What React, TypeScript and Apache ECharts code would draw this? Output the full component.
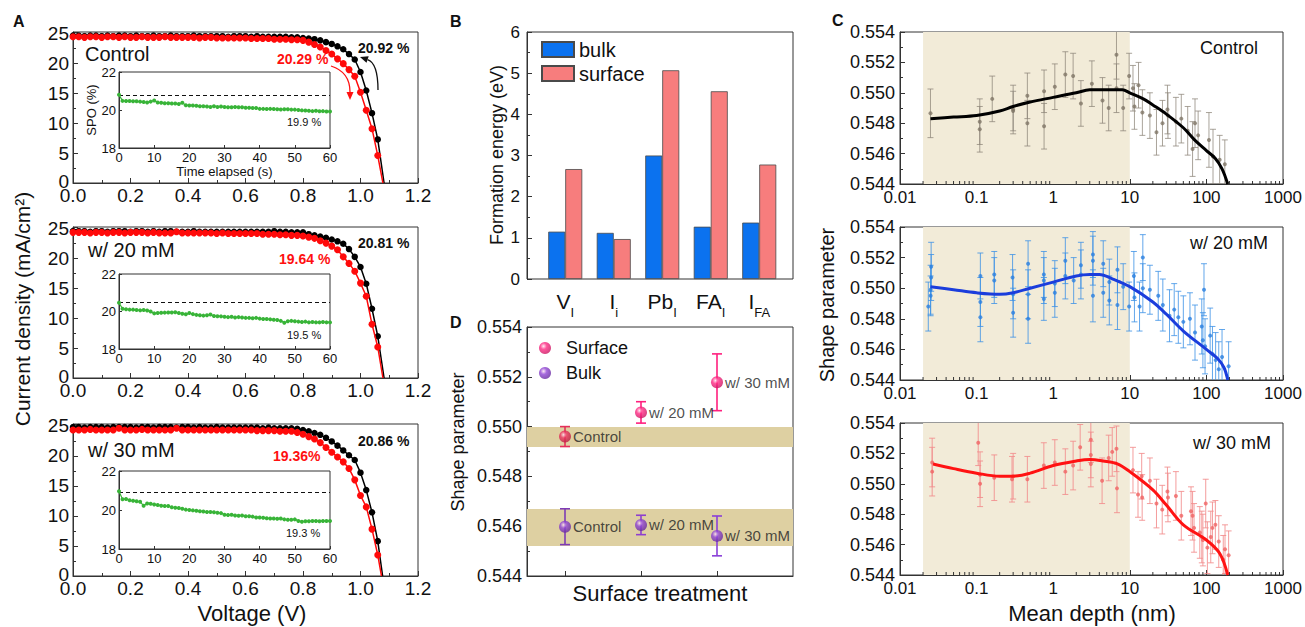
import React, { useEffect, useRef } from 'react';
import * as echarts from 'echarts';

const FONT = "'Liberation Sans', Arial, Helvetica, sans-serif";

// ---------------- Panel A : J-V curves ----------------
const V_GRID = [0, 0.02, 0.04, 0.06, 0.08, 0.1, 0.12, 0.14, 0.16, 0.18, 0.2, 0.22, 0.24, 0.26, 0.28, 0.3, 0.32, 0.34, 0.36, 0.38,
  0.4, 0.42, 0.44, 0.46, 0.48, 0.5, 0.52, 0.54, 0.56, 0.58, 0.6, 0.62, 0.64, 0.66, 0.68, 0.7, 0.72, 0.74, 0.76, 0.78,
  0.8, 0.82, 0.84, 0.86, 0.88, 0.9, 0.92, 0.94, 0.96, 0.98, 1.0, 1.02, 1.04, 1.06];

const CTRL_FWD = [24.7, 24.7, 24.6, 24.7, 24.7, 24.6, 24.7, 24.6, 24.7, 24.7, 24.6, 24.7, 24.6, 24.6, 24.7, 24.6, 24.6, 24.7, 24.6, 24.6,
  24.6, 24.7, 24.6, 24.6, 24.6, 24.6, 24.6, 24.5, 24.6, 24.6, 24.6, 24.5, 24.6, 24.5, 24.5, 24.5, 24.5, 24.5, 24.4, 24.4,
  24.3, 24.2, 24.1, 23.9, 23.6, 23.3, 22.9, 22.4, 21.6, 20.7, 18.6, 15.5, 11.7, 7.3];
const CTRL_REV = [24.5, 24.5, 24.4, 24.5, 24.5, 24.4, 24.5, 24.5, 24.4, 24.5, 24.4, 24.4, 24.5, 24.4, 24.4, 24.4, 24.5, 24.4, 24.4, 24.4,
  24.4, 24.4, 24.3, 24.4, 24.4, 24.3, 24.3, 24.3, 24.3, 24.3, 24.3, 24.2, 24.2, 24.2, 24.2, 24.1, 24.1, 24.1, 24.0, 24.0,
  23.9, 23.6, 23.2, 22.8, 22.2, 21.6, 20.8, 20.0, 19.0, 17.9, 15.2, 12.2, 9.1, 4.6];
const M20_FWD = [24.6, 24.6, 24.6, 24.5, 24.6, 24.6, 24.5, 24.6, 24.6, 24.6, 24.5, 24.6, 24.6, 24.5, 24.6, 24.5, 24.6, 24.6, 24.5, 24.5,
  24.5, 24.6, 24.5, 24.5, 24.5, 24.5, 24.5, 24.5, 24.5, 24.5, 24.5, 24.5, 24.5, 24.5, 24.5, 24.6, 24.5, 24.5, 24.4, 24.4,
  24.4, 24.1, 23.9, 23.7, 23.5, 23.2, 22.9, 22.5, 21.6, 20.3, 18.6, 15.8, 11.6, 7.0];
const M20_REV = [24.4, 24.4, 24.4, 24.3, 24.4, 24.4, 24.3, 24.4, 24.4, 24.3, 24.4, 24.4, 24.4, 24.3, 24.4, 24.3, 24.3, 24.3, 24.5, 24.3,
  24.3, 24.3, 24.3, 24.3, 24.3, 24.2, 24.3, 24.2, 24.2, 24.2, 24.2, 24.2, 24.2, 24.1, 24.1, 24.1, 24.0, 24.0, 23.9, 23.9,
  23.8, 23.6, 23.4, 23.0, 22.6, 22.1, 21.5, 20.3, 19.2, 17.9, 15.9, 13.7, 9.0, 5.2];
const M30_FWD = [24.8, 24.8, 24.7, 24.8, 24.8, 24.8, 24.7, 24.8, 24.8, 24.8, 24.8, 24.7, 24.8, 24.8, 24.7, 24.8, 24.8, 24.8, 24.7, 24.8,
  24.8, 24.7, 24.8, 24.7, 24.7, 24.8, 24.7, 24.7, 24.7, 24.7, 24.7, 24.7, 24.7, 24.6, 24.7, 24.6, 24.6, 24.6, 24.6, 24.5,
  24.3, 24.1, 23.8, 23.5, 23.0, 22.4, 21.7, 20.9, 20.1, 19.3, 17.2, 14.3, 10.6, 5.8];
const M30_REV = [24.3, 24.3, 24.3, 24.4, 24.3, 24.3, 24.3, 24.3, 24.6, 24.3, 24.3, 24.3, 24.4, 24.3, 24.3, 24.3, 24.3, 24.3, 24.6, 24.3,
  24.3, 24.3, 24.3, 24.3, 24.3, 24.3, 24.3, 24.3, 24.3, 24.3, 24.3, 24.3, 24.2, 24.2, 24.2, 24.2, 24.1, 24.1, 24.1, 23.9,
  23.6, 23.2, 22.8, 22.2, 21.4, 20.6, 19.8, 19.0, 17.9, 16.0, 13.4, 11.5, 7.8, 3.5];
const VOC = { ctrl: [1.082, 1.078], m20: [1.082, 1.078], m30: [1.077, 1.073] };

// SPO insets
const SPO_T = [0, 1, 2, 3, 4, 5, 6, 7, 8, 9, 10, 11, 12, 13, 14, 15, 16, 17, 18, 19, 20, 21, 22, 23, 24, 25, 26, 27, 28, 29, 30,
  31, 32, 33, 34, 35, 36, 37, 38, 39, 40, 41, 42, 43, 44, 45, 46, 47, 48, 49, 50, 51, 52, 53, 54, 55, 56, 57, 58, 59, 60];
const SPO_CTRL = [20.8, 20.48, 20.47, 20.47, 20.46, 20.46, 20.44, 20.42, 20.4, 20.44, 20.5, 20.4, 20.38, 20.36, 20.36, 20.34, 20.34, 20.32, 20.38, 20.25,
  20.24, 20.24, 20.22, 20.2, 20.2, 20.18, 20.16, 20.2, 20.16, 20.18, 20.16, 20.15, 20.14, 20.16, 20.14, 20.14, 20.12, 20.12, 20.1, 20.1,
  20.06, 20.06, 20.05, 20.06, 20.05, 20.04, 20.03, 20.04, 20.04, 20.02, 20.02, 20.0, 19.98, 19.97, 19.96, 19.94, 19.96, 19.93, 19.94, 19.92, 19.92];
const SPO_M20 = [20.47, 20.15, 20.12, 20.1, 20.1, 20.08, 20.06, 20.08, 20.05, 20.0, 19.9, 19.92, 19.93, 19.94, 19.95, 19.95, 19.96, 19.92, 19.88, 19.85,
  19.92, 19.86, 19.82, 19.8, 19.78, 19.8, 19.84, 19.76, 19.75, 19.74, 19.72, 19.7, 19.72, 19.68, 19.7, 19.68, 19.66, 19.66, 19.64, 19.66,
  19.62, 19.6, 19.6, 19.58, 19.56, 19.55, 19.5, 19.4, 19.48, 19.5, 19.48, 19.46, 19.44, 19.46, 19.42, 19.44, 19.42, 19.42, 19.44, 19.42, 19.42];
const SPO_M30 = [20.96, 20.55, 20.56, 20.5, 20.47, 20.45, 20.42, 20.22, 20.33, 20.32, 20.28, 20.26, 20.22, 20.2, 20.2, 20.14, 20.12, 20.1, 20.06, 20.02,
  20.0, 19.98, 19.96, 19.94, 19.92, 19.9, 19.9, 19.88, 19.86, 19.84, 19.76, 19.74, 19.76, 19.72, 19.7, 19.72, 19.68, 19.68, 19.66, 19.62,
  19.62, 19.6, 19.58, 19.56, 19.56, 19.55, 19.56, 19.52, 19.5, 19.5, 19.52, 19.44, 19.4, 19.42, 19.42, 19.44, 19.44, 19.42, 19.44, 19.44, 19.44];
const SPO_REF = [20.78, 20.52, 20.89];

// ---------------- Panel B : formation energy ----------------
const B_CATS = ['V_I', 'I_i', 'Pb_I', 'FA_I', 'I_FA'];
const B_BULK = [1.15, 1.12, 3.0, 1.27, 1.37];
const B_SURF = [2.67, 0.97, 5.07, 4.56, 2.78];

// ---------------- Panel D : shape parameter vs treatment ----------------
const D_X = [1, 2, 3];
const D_LABELS = ['Control', 'w/ 20 mM', 'w/ 30 mM'];
const D_SURF = [0.5496, 0.55057, 0.55178];
const D_SURF_ERR = [0.0004, 0.00043, 0.00114];
const D_BULK = [0.54598, 0.54605, 0.54561];
const D_BULK_ERR = [0.00072, 0.00039, 0.0008];
const D_BANDS = [[0.54918, 0.54998], [0.5452, 0.54669]];

// ---------------- Panel C : depth profiles [depth, value, err] ----------------
const C_CTRL_PTS = [
  [0.025, 0.54865, 0.0016], [0.11, 0.5481, 0.0015], [0.11, 0.5476, 0.0015], [0.16, 0.5496, 0.0015], [0.3, 0.5489, 0.0016],
  [0.3, 0.5488, 0.0013], [0.46, 0.5498, 0.0015], [0.46, 0.548, 0.0015], [0.76, 0.5501, 0.0014], [0.76, 0.5478, 0.0015],
  [1.05, 0.5504, 0.0015], [1.44, 0.5512, 0.0015], [1.82, 0.5511, 0.0015], [2.3, 0.5493, 0.0015], [3.2, 0.5506, 0.0015],
  [4.4, 0.5495, 0.0015], [5.3, 0.549, 0.0015], [6.7, 0.5525, 0.0016], [6.7, 0.5503, 0.0016], [8.2, 0.549, 0.0015],
  [9.8, 0.5511, 0.0015], [11, 0.5503, 0.0015], [11.5, 0.5491, 0.0015], [13, 0.5505, 0.0015], [14.6, 0.5487, 0.0015],
  [18.3, 0.5485, 0.0015], [22.3, 0.5474, 0.0015], [26.7, 0.548, 0.0015], [31, 0.5489, 0.0016], [31.5, 0.5485, 0.0015],
  [40, 0.5481, 0.0016], [47, 0.5483, 0.0016], [57, 0.5475, 0.0016], [66, 0.5463, 0.0018], [71, 0.548, 0.0016],
  [78, 0.5472, 0.0016], [108, 0.5469, 0.0018], [122, 0.5458, 0.0018], [149, 0.5456, 0.0016], [174, 0.5453, 0.0016],
];
const C_CTRL_FIT = [[0.025, 0.5483], [0.05, 0.5484], [0.1, 0.5485], [0.2, 0.5488], [0.3, 0.5491], [0.5, 0.5494], [1, 0.5497],
  [2, 0.55], [3, 0.5502], [5, 0.5502], [8, 0.5502], [10, 0.55], [15, 0.5496], [20, 0.5492], [30, 0.5486], [50, 0.5477],
  [70, 0.5469], [100, 0.5462], [130, 0.5457], [160, 0.545], [190, 0.544]];

const C_20_PTS = [
  [0.0234, 0.5488, 0.0016], [0.0251, 0.5495, 0.0013], [0.0251, 0.5499, 0.0016], [0.0255, 0.5507, 0.0015], [0.0255, 0.5514, 0.0016],
  [0.112, 0.5508, 0.0015], [0.112, 0.5491, 0.0016], [0.112, 0.5481, 0.0016], [0.17, 0.5505, 0.0015], [0.17, 0.5509, 0.0015],
  [0.295, 0.5507, 0.0015], [0.3, 0.5496, 0.0016], [0.3, 0.5484, 0.0016], [0.47, 0.5516, 0.0015], [0.47, 0.5496, 0.0016],
  [0.47, 0.548, 0.0016], [0.755, 0.5509, 0.0015], [0.755, 0.5505, 0.0015], [0.755, 0.5493, 0.0014], [1.05, 0.5497, 0.0016],
  [1.05, 0.5503, 0.0015], [1.44, 0.5508, 0.0015], [1.44, 0.5518, 0.0015], [1.85, 0.5505, 0.0015], [2.3, 0.5515, 0.0015],
  [2.3, 0.5509, 0.0016], [3.3, 0.5522, 0.0015], [3.3, 0.5518, 0.0016], [3.3, 0.5495, 0.0017], [4.5, 0.5516, 0.0015],
  [4.5, 0.5497, 0.0016], [5.4, 0.5504, 0.0015], [5.4, 0.5492, 0.0016], [6.9, 0.5512, 0.0015], [6.9, 0.5489, 0.0016],
  [8.2, 0.5501, 0.0015], [9.8, 0.5488, 0.0016], [11.3, 0.5508, 0.0016], [11.5, 0.5494, 0.0016], [13.4, 0.5488, 0.0016],
  [14.8, 0.552, 0.0015], [14.8, 0.55, 0.0016], [18.3, 0.5499, 0.0016], [23.5, 0.5495, 0.0016], [27, 0.5489, 0.0017],
  [33, 0.5482, 0.0017], [38, 0.5486, 0.0017], [43, 0.5481, 0.0017], [50, 0.5478, 0.0017], [61, 0.548, 0.0017],
  [71, 0.5471, 0.0018], [87, 0.5475, 0.0018], [90, 0.5466, 0.0018], [93, 0.5499, 0.0017], [96, 0.5462, 0.0018],
  [112, 0.5469, 0.0018], [120, 0.5457, 0.0018], [132, 0.5453, 0.0018], [145, 0.5447, 0.0018], [160, 0.5455, 0.0018],
  [195, 0.5449, 0.0016],
];
const C_20_FIT = [[0.025, 0.5501], [0.05, 0.5499], [0.1, 0.5497], [0.2, 0.5496], [0.3, 0.5497], [0.5, 0.55], [1, 0.5504],
  [2, 0.5508], [3, 0.5509], [4, 0.5509], [6, 0.5506], [10, 0.5501], [20, 0.5491], [30, 0.5483], [50, 0.5472], [100, 0.546],
  [140, 0.5454], [170, 0.5448], [190, 0.544]];

const C_30_PTS = [
  [0.0263, 0.5514, 0.0016], [0.0263, 0.5508, 0.0016], [0.105, 0.5527, 0.0015], [0.111, 0.55, 0.0015], [0.111, 0.5506, 0.0015],
  [0.17, 0.5504, 0.0015], [0.29, 0.5503, 0.0015], [0.3, 0.5505, 0.0015], [0.46, 0.5503, 0.0015], [0.755, 0.5512, 0.0015],
  [1.05, 0.5514, 0.0015], [1.44, 0.5508, 0.0015], [1.82, 0.5512, 0.0016], [2.25, 0.5524, 0.0015], [3.1, 0.5529, 0.0015],
  [3.1, 0.5519, 0.0015], [3.1, 0.5513, 0.0015], [4.35, 0.5502, 0.0015], [5.3, 0.5517, 0.0015], [5.9, 0.5521, 0.0016],
  [6.7, 0.5523, 0.0015], [6.8, 0.5497, 0.0016], [11, 0.5509, 0.0015], [12.8, 0.5493, 0.0015], [14.3, 0.5505, 0.0015],
  [14.5, 0.5491, 0.0015], [18.3, 0.5502, 0.0015], [22.3, 0.5487, 0.0016], [26.5, 0.5483, 0.0016], [31, 0.5495, 0.0016],
  [31.5, 0.5491, 0.0016], [40, 0.5492, 0.0016], [47, 0.5479, 0.0016], [63, 0.5482, 0.0016], [66, 0.5479, 0.0016],
  [69, 0.5471, 0.0016], [82, 0.5468, 0.0017], [87, 0.5465, 0.0017], [90, 0.5463, 0.0017], [98, 0.5487, 0.0016],
  [103, 0.5458, 0.0017], [114, 0.5465, 0.0017], [120, 0.5471, 0.0017], [131, 0.5473, 0.0016], [145, 0.5462, 0.0017],
  [166, 0.545, 0.0016], [175, 0.5457, 0.0016], [195, 0.5453, 0.0016],
];
const C_30_FIT = [[0.027, 0.5513], [0.05, 0.551], [0.1, 0.5507], [0.2, 0.5505], [0.3, 0.5505], [0.5, 0.5507], [1, 0.5512],
  [2, 0.5515], [3, 0.5516], [4.5, 0.5515], [7, 0.5513], [10, 0.5508], [20, 0.5496], [30, 0.5486], [50, 0.5473], [100, 0.5463],
  [150, 0.5454], [190, 0.544]];

const C_SHADE = [0.02, 10];
const LOG_TICKS = [0.01, 0.1, 1, 10, 100, 1000];

// ---------------------------------------------------------------------------
const AX = '#333';
const LBL = '#111';

function gridBox(left: number, top: number, width: number, height: number, show = true) {
  return { left, top, width, height, show, borderColor: AX, borderWidth: 1, backgroundColor: 'transparent', containLabel: false };
}

function valueAxis(gridIndex: number, min: number, max: number, interval: number, o: any = {}) {
  return {
    type: 'value', gridIndex, min, max, interval,
    axisLine: { show: true, lineStyle: { color: AX, width: 1 } },
    axisTick: { show: true, inside: true, length: o.tickLen ?? 5, lineStyle: { color: AX } },
    minorTick: { show: !!o.minor, splitNumber: o.minor || 2, length: 3, lineStyle: { color: AX } },
    splitLine: { show: false },
    axisLabel: {
      show: o.label !== false, fontSize: o.fontSize ?? 17, color: LBL, fontFamily: FONT, margin: o.margin ?? 5,
      formatter: o.formatter,
      ...(o.lineHeight ? { lineHeight: o.lineHeight } : {}),
      ...(o.rich ? { rich: o.rich } : {}),
    },
    ...(o.extra || {}),
  };
}

function errorBars(idx: number, pts: number[][], color: string, capHalf: number, lw: number, z: number) {
  return {
    type: 'custom', xAxisIndex: idx, yAxisIndex: idx, z, clip: true, silent: true,
    data: pts.map((p) => [p[0], p[1] - p[2], p[1] + p[2]]),
    encode: { x: 0, y: [1, 2] },
    renderItem: (_p: any, api: any) => {
      const lo = api.coord([api.value(0), api.value(1)]);
      const hi = api.coord([api.value(0), api.value(2)]);
      const style = { stroke: color, lineWidth: lw };
      return {
        type: 'group',
        children: [
          { type: 'line', shape: { x1: lo[0], y1: lo[1], x2: hi[0], y2: hi[1] }, style },
          { type: 'line', shape: { x1: lo[0] - capHalf, y1: lo[1], x2: lo[0] + capHalf, y2: lo[1] }, style },
          { type: 'line', shape: { x1: hi[0] - capHalf, y1: hi[1], x2: hi[0] + capHalf, y2: hi[1] }, style },
        ],
      };
    },
  };
}

function logMinorTicks(idx: number, ymin: number) {
  const vals: number[][] = [];
  for (let e = -2; e <= 2; e++) {
    for (let k = 2; k <= 9; k++) vals.push([Number((k * Math.pow(10, e)).toPrecision(3)), ymin]);
  }
  return {
    type: 'custom', xAxisIndex: idx, yAxisIndex: idx, z: 6, silent: true, data: vals, encode: { x: 0, y: 1 },
    renderItem: (_p: any, api: any) => {
      const c = api.coord([api.value(0), api.value(1)]);
      return { type: 'line', shape: { x1: c[0], y1: c[1], x2: c[0], y2: c[1] - 3 }, style: { stroke: AX, lineWidth: 1 } };
    },
  };
}

function jvSeries(idx: number, J: number[], voc: number, color: string, size: number, z: number) {
  const data: any[] = V_GRID.map((v, i) => [v, J[i]]);
  data.push({ value: [voc, 0], symbol: 'none' });
  return {
    type: 'line', xAxisIndex: idx, yAxisIndex: idx, data, symbol: 'circle', symbolSize: size, z,
    itemStyle: { color }, lineStyle: { color, width: 1.5 }, silent: true,
  };
}

function spoSeries(idx: number, vals: number[], ref: number) {
  return {
    type: 'line', xAxisIndex: idx, yAxisIndex: idx, data: vals.map((v, i) => [SPO_T[i], v]), z: 5,
    symbol: 'circle', symbolSize: 4, itemStyle: { color: '#38b438' }, lineStyle: { color: '#38b438', width: 1.2 }, silent: true,
    markLine: {
      silent: true, symbol: ['none', 'none'], label: { show: false },
      lineStyle: { type: [4, 3], color: '#111', width: 1 }, data: [{ yAxis: ref }],
    },
  };
}

function sphere(c: string, dark: string) {
  return {
    type: 'radial', x: 0.38, y: 0.35, r: 0.75,
    colorStops: [{ offset: 0, color: '#ffe6f0' }, { offset: 0.35, color: c }, { offset: 1, color: dark }],
  };
}

function arrow(x0: number, y0: number, cx: number, cy: number, x1: number, y1: number, color: string) {
  const dx = x1 - cx, dy = y1 - cy;
  const L = Math.hypot(dx, dy);
  const ux = dx / L, uy = dy / L;
  const len = 8, hw = 3.5;
  const bx = x1 - ux * len, by = y1 - uy * len;
  return [
    { type: 'bezierCurve', shape: { x1: x0, y1: y0, cpx1: cx, cpy1: cy, x2: bx, y2: by }, style: { stroke: color, lineWidth: 1.3, fill: null } },
    { type: 'polygon', shape: { points: [[x1, y1], [bx - uy * hw, by + ux * hw], [bx + uy * hw, by - ux * hw]] }, style: { fill: color } },
  ];
}

function txt(x: number, y: number, text: string, o: any = {}) {
  const { rotation, ...style } = o;
  return {
    type: 'text', x, y, rotation: rotation || 0, silent: true,
    style: { text, fontFamily: FONT, fill: LBL, fontSize: 14, align: 'left', verticalAlign: 'middle', ...style },
  };
}

function buildOption() {
  const grid = [
    gridBox(73, 32, 345, 151), // 0 A1
    gridBox(73, 227, 345, 151), // 1 A2
    gridBox(73, 424, 345, 152), // 2 A3
    gridBox(119, 72, 211, 76), // 3 inset 1
    gridBox(119, 274, 211, 75), // 4 inset 2
    gridBox(119, 471, 211, 78), // 5 inset 3
    gridBox(527, 32, 266, 247), // 6 B frame
    gridBox(541, 32, 242.5, 247, false), // 7 B bars
    gridBox(527, 327, 266, 249), // 8 D
    gridBox(900, 32, 383, 152), // 9 C1
    gridBox(900, 227, 383, 153), // 10 C2
    gridBox(900, 423, 383, 152), // 11 C3
  ];

  const fmt1 = (v: number) => v.toFixed(1);
  const fmtJ = (v: number) => {
    if (Math.abs(v / 5 - Math.round(v / 5)) > 1e-6) return '';
    const n = Math.round(v);
    return n === 0 ? '{z|0}' : String(n);
  };
  const fmt3 = (v: number) => v.toFixed(3);
  const fmtLog = (v: number) => {
    const m = LOG_TICKS.find((t) => Math.abs(Math.log10(t) - Math.log10(v)) < 1e-6);
    return m === undefined ? '' : String(m);
  };

  const xAxis: any[] = [];
  const yAxis: any[] = [];
  for (let i = 0; i < 3; i++) {
    xAxis.push(valueAxis(i, 0, 1.2, 0.2, { fontSize: 19, margin: 6, lineHeight: 12, minor: 2, formatter: fmt1 }));
    yAxis.push(valueAxis(i, 0, 25.3, 5, {
      fontSize: 19, margin: 4, lineHeight: 10, minor: 2, formatter: fmtJ,
      rich: { z: { fontSize: 19, lineHeight: 10, padding: [0, 0, 4, 0], color: LBL, fontFamily: FONT } },
    }));
  }
  for (let i = 3; i < 6; i++) {
    const x = valueAxis(i, 0, 60, 10, { fontSize: 13, margin: 3, tickLen: 3 });
    const y = valueAxis(i, 18, 22, 2, { fontSize: 13, margin: 3, tickLen: 3 });
    if (i === 3) {
      Object.assign(x, { name: 'Time elapsed (s)', nameLocation: 'middle', nameGap: 17, nameTextStyle: { fontSize: 13, color: LBL, fontFamily: FONT } });
      Object.assign(y, { name: 'SPO (%)', nameLocation: 'middle', nameGap: 20, nameTextStyle: { fontSize: 13, color: LBL, fontFamily: FONT } });
    }
    xAxis.push(x);
    yAxis.push(y);
  }
  // B frame
  xAxis.push({ type: 'value', gridIndex: 6, min: 0, max: 1, show: false });
  yAxis.push(valueAxis(6, 0, 6, 1, { fontSize: 17, margin: 7, minor: 2 }));
  // B bars
  xAxis.push({
    type: 'category', gridIndex: 7, data: B_CATS,
    axisLine: { show: false }, axisTick: { show: false }, splitLine: { show: false },
    axisLabel: {
      interval: 0, margin: 12, color: LBL,
      formatter: (v: string) => {
        const [m, s] = v.split('_');
        return `{m|${m}}{s|${s}}`;
      },
      rich: {
        m: { fontSize: 21, lineHeight: 24, verticalAlign: 'top', color: LBL, fontFamily: FONT },
        s: { fontSize: 13, lineHeight: 12, padding: [18, 0, 0, 0], color: LBL, fontFamily: FONT },
      },
    },
  });
  yAxis.push({ type: 'value', gridIndex: 7, min: 0, max: 6, show: false });
  // D
  xAxis.push({
    ...valueAxis(8, 0.5, 4, 1, { label: false }),
    interval: undefined,
    axisTick: { show: true, inside: true, length: 5, lineStyle: { color: AX }, customValues: D_X },
    axisLabel: { show: false },
  });
  yAxis.push(valueAxis(8, 0.544, 0.554, 0.002, { fontSize: 18, margin: 5, minor: 2, formatter: fmt3 }));
  // C
  for (let i = 9; i < 12; i++) {
    xAxis.push({
      type: 'log', gridIndex: i, min: 0.01, max: 1000, logBase: 10,
      axisLine: { show: true, lineStyle: { color: AX } },
      axisTick: { show: true, inside: true, length: 5, lineStyle: { color: AX } },
      splitLine: { show: false },
      axisLabel: { fontSize: 17, color: LBL, fontFamily: FONT, margin: 5, formatter: fmtLog },
    });
    yAxis.push(valueAxis(i, 0.544, 0.554, 0.002, { fontSize: 18, margin: 5, minor: 2, formatter: fmt3 }));
  }

  const series: any[] = [];
  // A
  const jvSets = [
    [CTRL_FWD, CTRL_REV, VOC.ctrl],
    [M20_FWD, M20_REV, VOC.m20],
    [M30_FWD, M30_REV, VOC.m30],
  ] as any[];
  jvSets.forEach(([f, r, voc], i) => {
    series.push(jvSeries(i, f, voc[0], '#000000', 6.5, 3));
    series.push(jvSeries(i, r, voc[1], '#ff0a0a', 7, 4));
  });
  series.push(spoSeries(3, SPO_CTRL, SPO_REF[0]));
  series.push(spoSeries(4, SPO_M20, SPO_REF[1]));
  series.push(spoSeries(5, SPO_M30, SPO_REF[2]));

  // B
  series.push({
    name: 'bulk', type: 'bar', xAxisIndex: 7, yAxisIndex: 7, data: B_BULK, barWidth: 17, barGap: '0%', silent: true,
    itemStyle: { color: '#0b72ef', borderColor: '#4a4a4a', borderWidth: 0.8 },
  });
  series.push({
    name: 'surface', type: 'bar', xAxisIndex: 7, yAxisIndex: 7, data: B_SURF, barWidth: 17, barGap: '0%', silent: true,
    itemStyle: { color: '#f77d7d', borderColor: '#4a4a4a', borderWidth: 0.8 },
  });

  // D
  series.push({
    type: 'line', xAxisIndex: 8, yAxisIndex: 8, data: [], z: 1, silent: true,
    markArea: {
      silent: true, itemStyle: { color: '#ded0a2' },
      data: D_BANDS.map((b) => [{ yAxis: b[0] }, { yAxis: b[1] }]),
    },
  });
  const surfColors = ['#e4305a', '#ff1f7e', '#ff1f7e'];
  const bulkColors = ['#7e3bb5', '#8e3fcf', '#8a3fd8'];
  D_X.forEach((x, i) => {
    series.push(errorBars(8, [[x, D_SURF[i], D_SURF_ERR[i]]], surfColors[i], 5, 1.6, 2));
    series.push(errorBars(8, [[x, D_BULK[i], D_BULK_ERR[i]]], bulkColors[i], 5, 1.6, 2));
  });
  const dLabel = { show: true, position: 'right', distance: 2, fontSize: 15, color: '#222', fontFamily: FONT, formatter: (p: any) => p.name };
  series.push({
    name: 'Surface', type: 'scatter', xAxisIndex: 8, yAxisIndex: 8, symbolSize: 12, z: 4, silent: true,
    itemStyle: { color: sphere('#ff2a84', '#c0105a') },
    label: dLabel,
    data: D_X.map((x, i) => ({
      value: [x, D_SURF[i]], name: D_LABELS[i],
      itemStyle: { color: i === 0 ? sphere('#ea3560', '#b01a3c') : sphere('#ff2a84', '#c0105a') },
    })),
  });
  series.push({
    name: 'Bulk', type: 'scatter', xAxisIndex: 8, yAxisIndex: 8, symbolSize: 12, z: 4, silent: true,
    itemStyle: { color: sphere('#9146d6', '#5e2394') },
    label: dLabel,
    data: D_X.map((x, i) => ({ value: [x, D_BULK[i]], name: D_LABELS[i] })),
  });

  // C
  const cSets = [
    { idx: 9, pts: C_CTRL_PTS, fit: C_CTRL_FIT, pt: '#7f7566', bar: 'rgba(140,132,120,0.75)', line: '#000000' },
    { idx: 10, pts: C_20_PTS, fit: C_20_FIT, pt: '#2a7fe0', bar: 'rgba(60,145,230,0.8)', line: '#1b3ddc' },
    { idx: 11, pts: C_30_PTS, fit: C_30_FIT, pt: '#f06464', bar: 'rgba(242,140,140,0.85)', line: '#ff1212' },
  ];
  cSets.forEach((c) => {
    series.push({
      type: 'line', xAxisIndex: c.idx, yAxisIndex: c.idx, data: [], z: 1, silent: true,
      markArea: { silent: true, itemStyle: { color: '#f2ebd8' }, data: [[{ xAxis: C_SHADE[0] }, { xAxis: C_SHADE[1] }]] },
    });
    series.push(errorBars(c.idx, c.pts, c.bar, 3, 1, 2));
    series.push({
      type: 'scatter', xAxisIndex: c.idx, yAxisIndex: c.idx, z: 3, silent: true, symbolSize: 4,
      itemStyle: { color: c.pt }, data: c.pts.map((p) => [p[0], p[1]]),
    });
    series.push({
      type: 'line', xAxisIndex: c.idx, yAxisIndex: c.idx, z: 4, silent: true, smooth: 0.35, symbol: 'none',
      lineStyle: { color: c.line, width: 3 }, data: c.fit,
    });
    series.push(logMinorTicks(c.idx, 0.544));
  });

  const graphic: any[] = [
    // panel letters
    txt(13, 21, 'A', { fontSize: 16, fontWeight: 'bold' }),
    txt(450, 21, 'B', { fontSize: 16, fontWeight: 'bold' }),
    txt(832, 20, 'C', { fontSize: 16, fontWeight: 'bold' }),
    txt(450, 322, 'D', { fontSize: 16, fontWeight: 'bold' }),
    // axis titles
    txt(22, 309, 'Current density (mA/cm²)', { fontSize: 21, align: 'center', rotation: Math.PI / 2 }),
    txt(252, 613, 'Voltage (V)', { fontSize: 22, align: 'center' }),
    txt(497, 155, 'Formation energy (eV)', { fontSize: 18, align: 'center', rotation: Math.PI / 2 }),
    txt(458, 442, 'Shape parameter', { fontSize: 18, align: 'center', rotation: Math.PI / 2 }),
    txt(660, 593, 'Surface treatment', { fontSize: 22, align: 'center' }),
    txt(827, 305, 'Shape parameter', { fontSize: 20, align: 'center', rotation: Math.PI / 2 }),
    txt(1092, 613, 'Mean depth (nm)', { fontSize: 22, align: 'center' }),
    // A annotations
    txt(85, 54, 'Control', { fontSize: 20 }),
    txt(358, 48, '20.92 %', { fontSize: 14, fontWeight: 'bold' }),
    txt(277, 59, '20.29 %', { fontSize: 14, fontWeight: 'bold', fill: '#ff1010' }),
    txt(287, 122, '19.9 %', { fontSize: 11 }),
    txt(88, 250, 'w/ 20 mM', { fontSize: 20 }),
    txt(358, 243, '20.81 %', { fontSize: 14, fontWeight: 'bold' }),
    txt(279, 259, '19.64 %', { fontSize: 14, fontWeight: 'bold', fill: '#ff1010' }),
    txt(287, 335, '19.5 %', { fontSize: 11 }),
    txt(88, 450, 'w/ 30 mM', { fontSize: 20 }),
    txt(358, 441, '20.86 %', { fontSize: 14, fontWeight: 'bold' }),
    txt(273, 456, '19.36%', { fontSize: 14, fontWeight: 'bold', fill: '#ff1010' }),
    txt(286, 533, '19.3 %', { fontSize: 11 }),
    ...arrow(378, 90, 378, 63, 360, 57, '#111'),
    ...arrow(331, 66, 350, 72, 350, 100, '#ff1010'),
    // C annotations
    txt(1200, 48, 'Control', { fontSize: 18 }),
    txt(1190, 243, 'w/ 20 mM', { fontSize: 18 }),
    txt(1193, 443, 'w/ 30 mM', { fontSize: 18 }),
    txt(970, 551, 'Top surface region', { fontSize: 15 }),
  ];

  return {
    animation: false,
    backgroundColor: '#ffffff',
    textStyle: { fontFamily: FONT },
    grid, xAxis, yAxis, series, graphic,
    legend: [
      {
        left: 541, top: 39.5, orient: 'vertical', padding: 0, itemWidth: 32, itemHeight: 15, itemGap: 4, icon: 'rect',
        selectedMode: false, data: ['bulk', 'surface'],
        textStyle: { fontSize: 20, lineHeight: 20, color: LBL, fontFamily: FONT },
      },
      {
        left: 539, top: 339, orient: 'vertical', padding: 0, itemWidth: 32, itemHeight: 12, itemGap: 7, icon: 'circle',
        selectedMode: false, data: ['Surface', 'Bulk'],
        textStyle: { fontSize: 18, lineHeight: 18, color: LBL, fontFamily: FONT },
      },
    ],
  };
}

export default function App() {
  const ref = useRef<HTMLDivElement>(null);
  useEffect(() => {
    if (!ref.current) return;
    const chart = echarts.init(ref.current, undefined, { renderer: 'svg' });
    chart.setOption(buildOption() as any);
    return () => chart.dispose();
  }, []);
  return <div ref={ref} style={{ position: 'absolute', left: 0, top: 0, width: 1305, height: 627, background: '#fff' }} />;
}
